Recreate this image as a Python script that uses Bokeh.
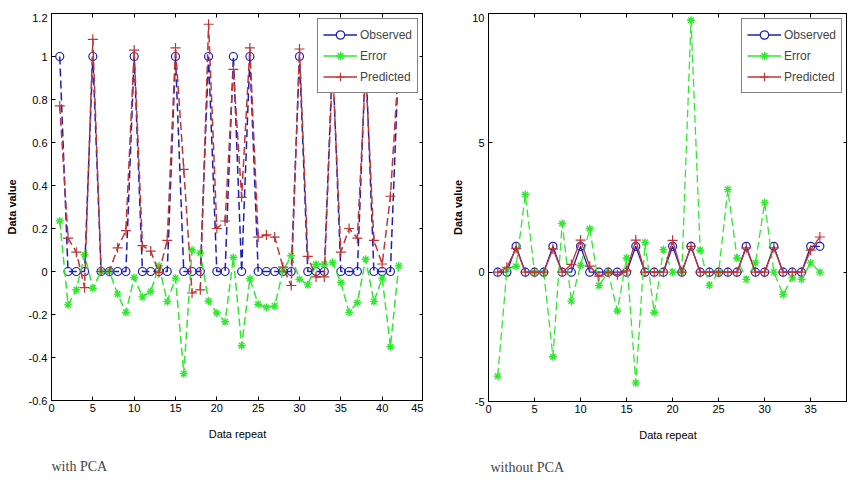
from bokeh.plotting import figure
from bokeh.models import (Range1d, FixedTicker, LinearAxis, CustomJSTickFormatter,
                          Legend, LegendItem, Title, Spacer)
from bokeh.layouts import row, column
from bokeh.embed import file_html
from bokeh.resources import INLINE

# ---------------- data: with PCA ----------------
x_pca = list(range(1, 43))
obs_pca = [1, 0, 0, 0, 1, 0, 0, 0, 0, 1, 0, 0, 0, 0, 1, 0, 0, 0, 1, 0, 0,
           1, 0, 1, 0, 0, 0, 0, 0, 1, 0, 0, 0, 1, 0, 0, 0, 1, 0, 0, 0, 1]
err_pca = [0.235, -0.155, -0.085, 0.078, -0.078, 0.0, 0.0, -0.105, -0.19, -0.028,
           -0.118, -0.093, 0.026, -0.14, -0.031, -0.475, 0.1, 0.086, -0.137, -0.193,
           -0.234, 0.065, -0.345, -0.033, -0.152, -0.167, -0.16, 0.003, 0.073, -0.036,
           -0.062, 0.034, 0.034, 0.042, -0.051, -0.19, -0.144, 0.057, -0.14, -0.031,
           -0.35, 0.026]
pred_pca = [0.77, 0.155, 0.09, -0.075, 1.08, 0.0, 0.0, 0.11, 0.19, 1.03,
            0.12, 0.095, -0.005, 0.145, 1.04, 0.475, -0.1, -0.085, 1.15, 0.2,
            0.235, 0.94, 0.345, 1.04, 0.16, 0.17, 0.16, 0.02, -0.065, 1.035,
            0.07, -0.025, -0.025, 0.96, 0.09, 0.2, 0.155, 0.94, 0.145, 0.035,
            0.35, 0.975]

# ---------------- data: without PCA ----------------
x_raw = list(range(1, 37))
obs_raw = [0, 0, 1, 0, 0, 0, 1, 0, 0, 1, 0, 0, 0, 0, 0, 1, 0, 0,
           0, 1, 0, 1, 0, 0, 0, 0, 0, 1, 0, 0, 1, 0, 0, 0, 1, 1]
err_raw = [-4.02, 0.1, 0.23, 3.0, 0.0, 0.0, -3.27, 1.88, -1.12, 0.26, 1.68, -0.52,
           0.0, -1.5, 0.55, -4.28, 1.15, -1.56, 0.87, 0.0, 0.0, 9.74, 0.85, -0.51,
           0.0, 3.2, 0.55, -0.28, 0.36, 2.69, 0.0, -0.86, -0.22, -0.28, 0.36, 0.0]
pred_raw = [0.0, 0.19, 0.92, 0.0, 0.0, 0.0, 0.9, 0.0, 0.3, 1.24, 0.23, -0.15,
            0.0, -0.1, 0.05, 1.24, 0.0, 0.0, 0.0, 1.23, 0.0, 1.0, 0.0, 0.0,
            0.0, 0.0, 0.0, 0.94, 0.0, 0.0, 0.94, 0.0, 0.0, 0.0, 0.85, 1.36]

x_ticks_pca = [0, 5, 10, 15, 20, 25, 30, 35, 40, 45]
y_ticks_pca = [-0.6, -0.4, -0.2, 0, 0.2, 0.4, 0.6, 0.8, 1, 1.2]
x_ticks_raw = [0, 5, 10, 15, 20, 25, 30, 35, 40]
y_ticks_raw = [-5, 0, 5, 10]

BLUE = "#1e1eb4"
GREEN = "#30e830"
RED = "#c03434"
TICK_FONT = "Liberation Sans"
NAN = [float("nan")]


def style_axes(p, xticks, yticks):
    fmt = CustomJSTickFormatter(code="return String(tick);")
    empty = CustomJSTickFormatter(code="return '';")
    for ax in p.xaxis + p.yaxis:
        ax.major_tick_in = 4
        ax.major_tick_out = 0
        ax.minor_tick_line_color = None
        ax.axis_line_color = "black"
        ax.major_label_text_font = TICK_FONT
        ax.major_label_text_font_size = "11px"
        ax.major_label_text_color = "black"
        ax.axis_label_text_font = TICK_FONT
        ax.axis_label_text_font_style = "normal"
        ax.axis_label_text_color = "black"
        ax.axis_label_text_font_size = "11px"
    p.xaxis.ticker = FixedTicker(ticks=xticks)
    p.yaxis.ticker = FixedTicker(ticks=yticks)
    p.xaxis.formatter = fmt
    p.yaxis.formatter = fmt
    p.xaxis.major_label_standoff = 3
    p.yaxis.major_label_standoff = 4
    top = LinearAxis(ticker=FixedTicker(ticks=xticks), formatter=empty,
                     major_tick_in=4, major_tick_out=0, minor_tick_line_color=None,
                     major_label_standoff=0, major_label_text_font_size="0px")
    right = LinearAxis(ticker=FixedTicker(ticks=yticks), formatter=empty,
                       major_tick_in=4, major_tick_out=0, minor_tick_line_color=None,
                       major_label_standoff=0, major_label_text_font_size="0px")
    p.add_layout(top, "above")
    p.add_layout(right, "right")
    p.outline_line_color = "black"
    p.xgrid.visible = False
    p.ygrid.visible = False


def add_series(p, x, obs, err, pred, dash_obs, dash_err, dash_pred, lw):
    p.line(x, obs, line_color=BLUE, line_width=lw, line_dash=dash_obs)
    p.scatter(x, obs, marker="circle", size=8, line_color=BLUE,
              fill_color=None, line_width=1.2)
    p.line(x, err, line_color=GREEN, line_width=lw, line_dash=dash_err)
    p.scatter(x, err, marker="asterisk", size=8, line_color=GREEN, line_width=1.4)
    p.line(x, pred, line_color=RED, line_width=lw, line_dash=dash_pred)
    p.scatter(x, pred, marker="cross", size=10, line_color=RED, line_width=1.2)
    # legend proxies (solid lines as in the reference legend)
    lo = p.line(NAN, NAN, line_color=BLUE, line_width=1.3)
    so = p.scatter(NAN, NAN, marker="circle", size=8, line_color=BLUE,
                   fill_color="white", line_width=1.2)
    le = p.line(NAN, NAN, line_color=GREEN, line_width=1.3)
    se = p.scatter(NAN, NAN, marker="asterisk", size=7, line_color=GREEN, line_width=1.4)
    lp = p.line(NAN, NAN, line_color=RED, line_width=1.3)
    sp = p.scatter(NAN, NAN, marker="cross", size=10, line_color=RED, line_width=1.2)
    legend = Legend(items=[LegendItem(label="Observed", renderers=[lo, so]),
                           LegendItem(label="Error", renderers=[le, se]),
                           LegendItem(label="Predicted", renderers=[lp, sp])],
                    location="top_right")
    legend.margin = 5
    legend.padding = 5
    legend.spacing = 0
    legend.glyph_width = 34
    legend.glyph_height = 21
    legend.label_height = 21
    legend.label_standoff = 3
    legend.label_text_font = TICK_FONT
    legend.label_text_font_size = "12px"
    legend.border_line_color = "black"
    legend.border_line_width = 1
    legend.background_fill_alpha = 1
    p.add_layout(legend)


# ---------------- left figure ----------------
p1 = figure(frame_width=372, frame_height=387, output_backend="svg",
            toolbar_location=None,
            x_range=Range1d(0, 45), y_range=Range1d(-0.6, 1.2),
            min_border_left=0, min_border_right=0, min_border_top=0,
            min_border_bottom=0)
p1.xaxis.axis_label = "Data repeat"
p1.yaxis.axis_label = "Data value"
style_axes(p1, x_ticks_pca, y_ticks_pca)
p1.yaxis.axis_label_standoff = 8
p1.yaxis.axis_label_text_font_style = "bold"
p1.xaxis.axis_label_standoff = 13
add_series(p1, x_pca, obs_pca, err_pca, pred_pca, "8 4", "8 4", "8 4", 1.5)
p1.add_layout(Title(text="with PCA", text_font="Liberation Serif",
                    text_font_size="14px", text_font_style="normal",
                    align="left", standoff=28, offset=0), "below")

# ---------------- right figure ----------------
p2 = figure(frame_width=359, frame_height=388, output_backend="svg",
            toolbar_location=None,
            x_range=Range1d(0, 39), y_range=Range1d(-5, 10),
            min_border_left=0, min_border_right=0, min_border_top=0,
            min_border_bottom=0)
p2.xaxis.axis_label = "Data repeat"
p2.yaxis.axis_label = "Data value"
style_axes(p2, x_ticks_raw, y_ticks_raw)
p2.yaxis.axis_label_standoff = 5
p2.yaxis.axis_label_text_font_style = "bold"
p2.xaxis.axis_label_standoff = 13
add_series(p2, x_raw, obs_raw, err_raw, pred_raw, "solid", "8 4", "solid", 1.3)
p2.add_layout(Title(text="without PCA", text_font="Liberation Serif",
                    text_font_size="14px", text_font_style="normal",
                    align="left", standoff=29, offset=2), "below")

layout = column(Spacer(height=13),
                row(Spacer(width=2), p1, Spacer(width=26), p2))
open("out.html", "w").write(file_html(layout, INLINE))
